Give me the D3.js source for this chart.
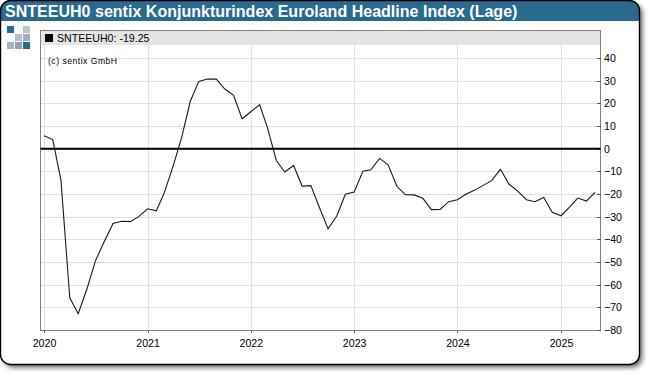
<!DOCTYPE html>
<html>
<head>
<meta charset="utf-8">
<script src="https://cdn.jsdelivr.net/npm/d3@7"></script>
<style>
	html, body { margin: 0; padding: 0; background: #fff; }
	svg { display: block; }
	text { font-family: "Liberation Sans", Arial, sans-serif; fill: #000; }
	.grid line { stroke: #e0e0e0; stroke-width: 1; shape-rendering: crispEdges; }
	.grid path { display: none; }
	.axis line, .axis path { stroke: #555; shape-rendering: crispEdges; }
	.axis text { font-size: 10.6px; fill: #000; }
</style>
</head>
<body>
<svg id="chart" width="650" height="376"></svg>
<script>
// monthly readings, first one is jan 2020
const startMonth = new Date(2020, 0, 1);
const endMonth = new Date(2025, 5, 1);
const values = [
	5.7, 4, -14, -65.8, -72.8, -61.8, -49.4, -41, -33, -32, -32.2, -30,
	-26.5, -27.4, -19.5, -7.8, 4.8, 20.9, 29.7, 30.7, 30.7, 26.3, 23.5, 13.2,
	16.3, 19.4, 9.1, -5.2, -10.3, -7.4, -16.5, -16.3, -26.2, -35.4, -29.6, -20.1,
	-19.1, -10, -9.3, -4.3, -7.1, -16.6, -20.3, -20.4, -21.9, -26.9, -26.8, -23.4,
	-22.5, -20, -18.4, -16.2, -14.1, -9.1, -15.6, -18.7, -22.5, -23.4, -21.5, -28.1,
	-29.6, -25.7, -21.8, -23.1, -19.25
];
const yTicks = [40, 30, 20, 10, 0, -10, -20, -30, -40, -50, -60, -70, -80];
const xTickYears = [2020, 2021, 2022, 2023, 2024, 2025];
const titleText = "SNTEEUH0 sentix Konjunkturindex Euroland Headline Index (Lage)";
const legendText = "SNTEEUH0: -19.25";
const creditText = "(c) sentix GmbH";

const months = d3.timeMonth.range(startMonth, endMonth);
const rows = months.map(function(d, i) { return {date: d, value: values[i]}; });

const svg = d3.select("#chart");
const plot = {left: 40.5, right: 600.5, top: 30.5, bottom: 330.5};

const x = d3.scaleTime()
	.domain([new Date(2020, 0, 1), new Date(2025, 0, 1)])
	.range([44, 561]);
const y = d3.scaleLinear().domain([-80, 40]).range([330, 58]);

const defs = svg.append("defs");
const shadow = defs.append("filter").attr("id", "shadow")
	.attr("x", "-5%").attr("y", "-5%").attr("width", "110%").attr("height", "110%");
shadow.append("feDropShadow")
	.attr("dx", 3).attr("dy", 3).attr("stdDeviation", 2.4)
	.attr("flood-color", "#000").attr("flood-opacity", 0.6);
defs.append("clipPath").attr("id", "frameClip")
	.append("rect").attr("x", 0.5).attr("y", 0.5).attr("width", 639).attr("height", 364).attr("rx", 10);

// frame + title bar
svg.append("rect")
	.attr("x", 0.5).attr("y", 0.5).attr("width", 639).attr("height", 364).attr("rx", 10)
	.attr("fill", "#fff").attr("filter", "url(#shadow)");
svg.append("rect")
	.attr("x", 0).attr("y", 0).attr("width", 640).attr("height", 21)
	.attr("fill", "#2a6a8f").attr("clip-path", "url(#frameClip)");
svg.append("rect")
	.attr("x", 0.5).attr("y", 0.5).attr("width", 639).attr("height", 364).attr("rx", 10)
	.attr("fill", "none").attr("stroke", "#000").attr("stroke-width", 1.4);
svg.append("text")
	.attr("x", 5).attr("y", 17)
	.style("font-size", "16px").style("font-weight", "bold").style("letter-spacing", "0.02px").style("fill", "#fff")
	.text(titleText);

// logo
const logoColors = [
	["#2a6a8f", null, "#b9c6ce"],
	[null, "#b4c0c8", "#9fafba"],
	["#a5b3bd", "#90a2ae", "#2a6a8f"]
];
logoColors.forEach(function(row, r) {
	row.forEach(function(c, k) {
		if (!c) return;
		svg.append("rect")
			.attr("x", 7 + k * 8).attr("y", 26 + r * 8)
			.attr("width", 7).attr("height", 7).attr("fill", c);
	});
});

// legend band sits under the grid lines
svg.append("rect")
	.attr("x", plot.left).attr("y", plot.top)
	.attr("width", plot.right - plot.left).attr("height", 14.5)
	.attr("fill", "#e5e5e5");

const xTicks = xTickYears.map(function(v) { return new Date(v, 0, 1); });

svg.append("g")
	.attr("class", "grid")
	.attr("transform", "translate(0," + plot.bottom + ")")
	.call(d3.axisBottom(x).tickValues(xTicks).tickSize(-(plot.bottom - plot.top)).tickFormat(""));

svg.append("g")
	.attr("class", "grid")
	.attr("transform", "translate(" + plot.right + ",0)")
	.call(d3.axisLeft(y).tickValues(yTicks).tickSize(plot.right - plot.left).tickFormat(""));

svg.append("rect")
	.attr("x", plot.left).attr("y", plot.top)
	.attr("width", plot.right - plot.left).attr("height", plot.bottom - plot.top)
	.attr("fill", "none").attr("stroke", "#808080").attr("stroke-width", 1)
	.style("shape-rendering", "crispEdges");

svg.append("g")
	.attr("class", "axis")
	.attr("transform", "translate(0," + plot.bottom + ")")
	.call(d3.axisBottom(x).tickValues(xTicks).tickSize(2).tickPadding(7).tickFormat(d3.timeFormat("%Y")))
	.select(".domain").remove();

const yAxis = svg.append("g")
	.attr("class", "axis")
	.attr("transform", "translate(" + plot.right + ",0)")
	.call(d3.axisLeft(y).tickValues(yTicks).tickSize(4).tickFormat(""));
yAxis.select(".domain").remove();

svg.append("g")
	.attr("class", "axis")
	.attr("transform", "translate(" + plot.right + ",0)")
	.call(d3.axisRight(y).tickValues(yTicks).tickSize(0).tickPadding(3.5))
	.select(".domain").remove();

// zero line
svg.append("line")
	.attr("x1", plot.left).attr("x2", plot.right)
	.attr("y1", y(0)).attr("y2", y(0))
	.attr("stroke", "#000").attr("stroke-width", 2);

const line = d3.line()
	.x(function(d) { return x(d.date); })
	.y(function(d) { return y(d.value); });

svg.append("path")
	.datum(rows)
	.attr("d", line)
	.attr("fill", "none")
	.attr("stroke", "#1a1a1a")
	.attr("stroke-width", 1.1);

// legend
svg.append("rect").attr("x", 45).attr("y", 34).attr("width", 8).attr("height", 8).attr("fill", "#000");
svg.append("text").attr("x", 57).attr("y", 42).style("font-size", "10.6px").text(legendText);
svg.append("text").attr("x", 48).attr("y", 64).style("font-size", "8.6px").style("letter-spacing", "0.5px").text(creditText);
</script>
</body>
</html>
